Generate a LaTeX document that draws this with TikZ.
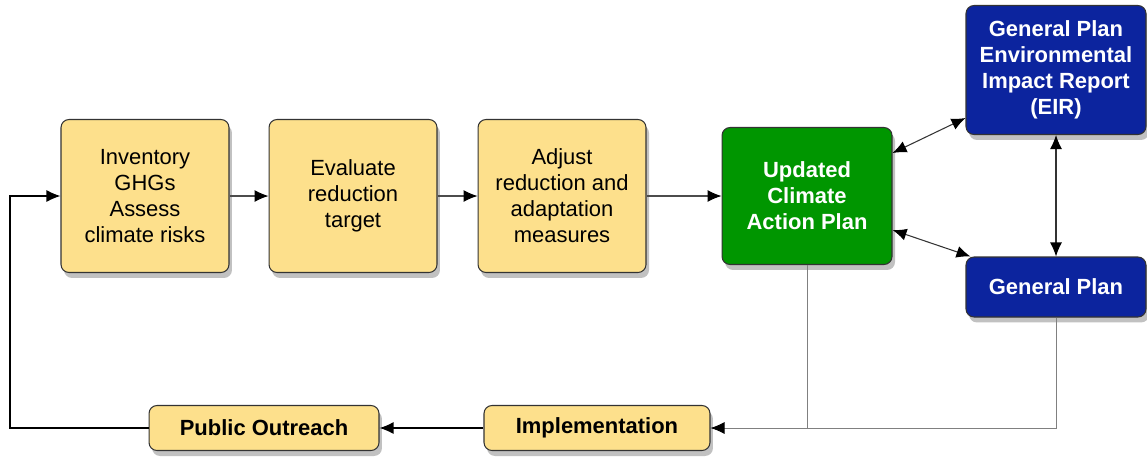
\documentclass[tikz,border=0pt]{standalone}
\usepackage{fontspec}
\setmainfont{Liberation Sans}
\usetikzlibrary{arrows.meta, positioning, shadows}
\definecolor{boxyellow}{RGB}{253,224,140}
\definecolor{capgreen}{RGB}{0,150,0}
\definecolor{planblue}{RGB}{12,36,158}

\begin{document}
\begin{tikzpicture}[x=0.02cm, y=-0.02cm, >={Latex[length=2.8mm, width=2.4mm, color=black]},
  box/.style={draw=black!80, rounded corners=1.6mm, line width=0.6pt, align=center, inner sep=2pt,
    font=\fontsize{12.5}{14.8}\selectfont,
    drop shadow={shadow xshift=0.6mm, shadow yshift=-1.1mm, opacity=0.35, fill=black!70}},
  task/.style={box, fill=boxyellow, minimum width=3.36cm, minimum height=3.06cm},
  plan/.style={box, fill=planblue, text=white, font=\fontsize{12.5}{14.8}\selectfont\bfseries, minimum width=3.6cm},
  action/.style={box, fill=boxyellow, font=\fontsize{12.5}{14.8}\selectfont\bfseries, minimum height=0.9cm},
  link/.style={->, black!70, line width=0.6pt}]
  \useasboundingbox (0,0) rectangle (1147,457);
  \node[task] (inv) at (145,196) {Inventory\\GHGs\\Assess\\climate risks};
  \node[task, right=0.78cm of inv] (eval) {Evaluate\\reduction\\target};
  \node[task, right=0.8cm of eval] (adj) {Adjust\\reduction and\\adaptation\\measures};
  \node[box, fill=capgreen, text=white, font=\fontsize{12.5}{14.8}\selectfont\bfseries,
    minimum width=3.4cm, minimum height=2.74cm, right=1.5cm of adj] (cap) {Updated\\Climate\\Action Plan};
  \node[plan, minimum height=2.58cm] (eir) at (1056,70) {General Plan\\Environmental\\Impact Report\\(EIR)};
  \node[plan, minimum height=1.2cm] (gp) at (1056,287) {General Plan};
  \node[action, minimum width=4.52cm] (impl) at (597,428) {Implementation};
  \node[action, minimum width=4.6cm, left=2.08cm of impl] (out) {Public Outreach};
  \coordinate (loop) at (10,428);
  % main chain
  \draw[link] (inv) -- (eval);
  \draw[link] (eval) -- (adj);
  \draw[link] (adj) -- (cap);
  % plan links
  \draw[<->, black!80, line width=0.6pt] ([yshift=0.86cm]cap.east) -- ([yshift=-0.96cm]eir.west);
  \draw[<->, black!80, line width=0.6pt] ([yshift=-0.68cm]cap.east) -- ([xshift=0.1cm]gp.north west);
  \draw[<->, black!80, line width=0.6pt] (eir.south) -- (gp.north);
  % feedback loop
  \draw[->, black!50, line width=0.5pt] (cap.south) |- (impl.east);
  \draw[black!50, line width=0.5pt] (gp.south) |- (cap.south |- impl.east);
  \draw[->, black, line width=0.7pt] (impl) -- (out);
  \draw[->, black, line width=0.7pt] (out.west) -- (loop) |- (inv.west);
\end{tikzpicture}
\end{document}
